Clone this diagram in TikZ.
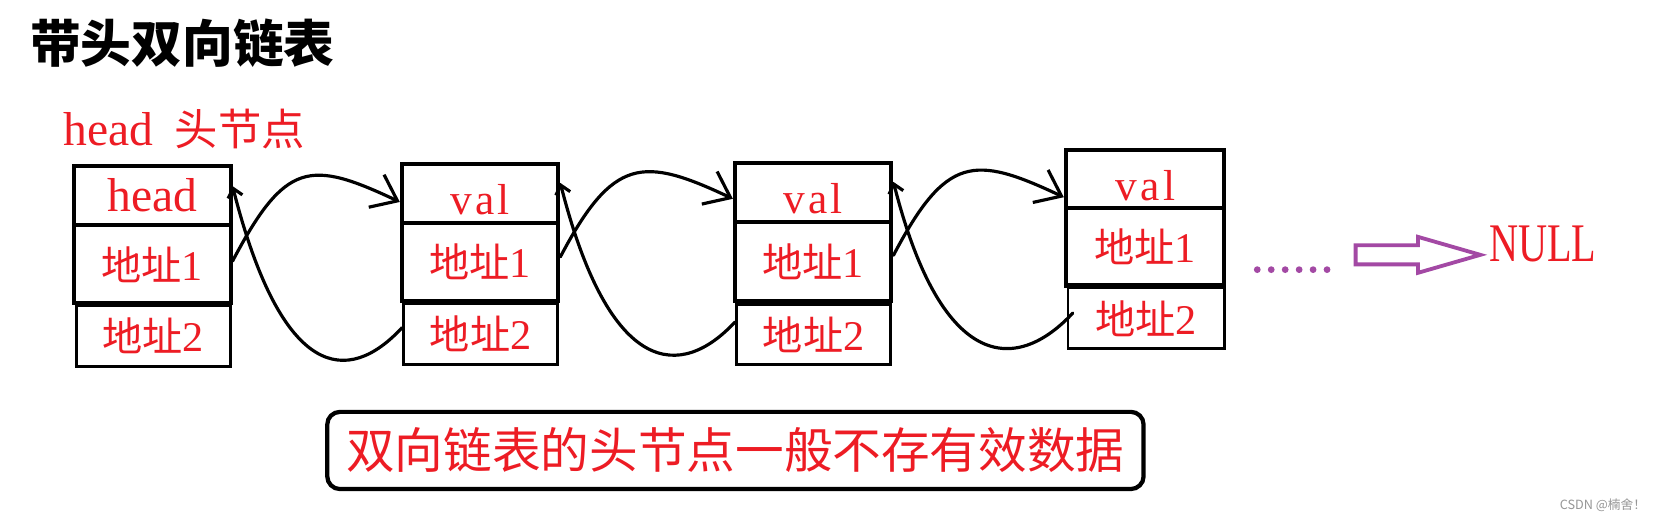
\documentclass[tikz,border=0pt]{standalone}
\usepackage{fontspec}
\usepackage{graphicx}
\setmainfont{Liberation Serif}
\newfontfamily\cjk{Noto Sans CJK SC}
\usetikzlibrary{arrows.meta}
\definecolor{paintred}{RGB}{237,28,36}
\definecolor{paintpurple}{RGB}{163,73,164}
\definecolor{markgray}{RGB}{150,150,150}
% red cell texts
\newcommand\dizhi[1]{{\cjk\fontsize{19}{19}\selectfont 地址}{\fontsize{20}{20}\selectfont #1}}
\newcommand\fieldword[1]{{\fontsize{22.5}{22.5}\selectfont #1}}
\newcommand\valword{{\fontsize{20.5}{20.5}\selectfont v\kern1.6pt a\kern1.6pt l}}
\tikzset{
  cell/.style={draw=black, line width=1.9pt, minimum width=74pt, inner sep=0pt, text=paintred},
  topcell/.style={cell, minimum height=28pt},
  valcell/.style={topcell, text height=20pt, text depth=0pt},
  midcell/.style={cell, minimum height=37pt},
  lowcell/.style={cell, line width=1.4pt, minimum width=73pt, minimum height=29pt},
  nextlink/.style={draw=black, line width=1.5pt, line cap=round, -{Straight Barb[length=11pt,width=17pt]}},
  prevlink/.style={draw=black, line width=1.5pt, line cap=round, -{Straight Barb[length=4pt,width=7pt]}},
}
\begin{document}
\begin{tikzpicture}[x=0.5pt,y=-0.5pt]
\useasboundingbox (0,0) rectangle (1568,494);
\fill[white] (0,0) rectangle (1568,494);

% heading and head label
\node[anchor=west, inner sep=0pt, font=\cjk\bfseries\fontsize{24}{24}\selectfont] (title) at (28,41) {带头双向链表};
\node[anchor=west, inner sep=0pt, text=paintred] (headlabel) at (60,122)
  {\fieldword{head}\hspace{10pt}{\cjk\fontsize{20.5}{20.5}\selectfont 头节点}};

% list nodes: value cell, next pointer, prev pointer
\node[topcell] (v1) at (144,185) {\fieldword{head}};
\node[midcell] (a1) at (144,250) {\dizhi{1}};
\node[lowcell] (b1) at (145,318) {\dizhi{2}\hspace{8pt}};

\node[valcell] (v2) at (454,183) {\valword};
\node[midcell] (a2) at (454,248) {\dizhi{1}};
\node[lowcell] (b2) at (454.5,316) {\dizhi{2}\hspace{8pt}};

\node[valcell] (v3) at (769,182) {\valword};
\node[midcell, minimum height=37.5pt] (a3) at (769,247.5) {\dizhi{1}};
\node[lowcell, minimum height=28.5pt] (b3) at (769.5,316.5) {\dizhi{2}\hspace{8pt}};

\node[valcell, minimum width=75pt, minimum height=27.5pt] (v4) at (1083,169.5) {\valword};
\node[midcell, minimum width=75pt, minimum height=36.5pt] (a4) at (1083,233.5) {\dizhi{1}};
\node[lowcell, minimum width=74pt] (b4) at (1084,301) {\dizhi{2}\hspace{8pt}};

% next links
\draw[nextlink] ([yshift=1.5pt]a1.east) .. controls +(50,-95) and +(-85,-40) .. ([yshift=-4pt]v2.west);
\draw[nextlink] ([yshift=2.5pt]a2.east) .. controls +(50,-95) and +(-85,-40) .. ([yshift=-3pt]v3.west);
\draw[nextlink] ([yshift=3pt]a3.east) .. controls +(50,-95) and +(-85,-40) .. ([yshift=-8.5pt]v4.west);

% prev links
\draw[prevlink] ([yshift=3pt]b2.west) .. controls +(-51,55) and +(47,184) .. ([yshift=4.5pt]v1.east);
\draw[prevlink] ([yshift=6pt]b3.west) .. controls +(-51,55) and +(47,184) .. ([yshift=5pt]v2.east);
\draw[prevlink] ([xshift=3pt,yshift=2.5pt]b4.west) .. controls +(-51,55) and +(47,184) .. ([yshift=5pt]v3.east);

% continuation dots, hollow arrow and NULL
\foreach \i in {0,...,5} \fill[paintpurple] (1189+13.2*\i,255) circle (1.6pt);
\node[anchor=west, inner sep=0pt, text=paintred] (null) at (1408,231)
  {\scalebox{0.74}[1]{\fontsize{25.7}{26}\selectfont NULL}};
\draw[paintpurple, line width=1.8pt, line join=miter]
  (1282,232) -- (1341,232) -- (1341,224) -- (1400,241) -- (1341,258) -- (1341,250) -- (1282,250) -- cycle;

% note box
\node[draw=black, line width=2pt, rounded corners=6pt, inner sep=0pt, minimum width=386pt, minimum height=36.5pt,
  text=paintred, font=\cjk\fontsize{23}{24}\selectfont] (note) at (695.5,426) {双向链表的头节点一般不存有效数据};

% mark
\node[anchor=east, inner sep=0pt, text=markgray, font=\cjk\fontsize{6}{7}\selectfont] (mark) at (1557,478) {CSDN @楠舍！};
\end{tikzpicture}
\end{document}
